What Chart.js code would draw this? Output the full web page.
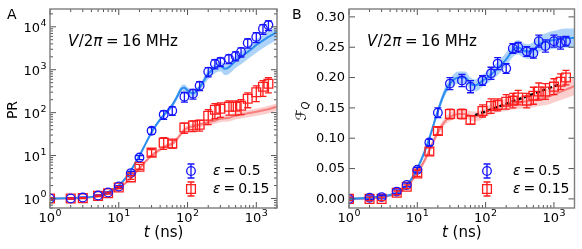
<!DOCTYPE html>
<html><head><meta charset="utf-8">
<script src="https://cdn.jsdelivr.net/npm/chart.js@4/dist/chart.umd.min.js"></script>
<style>
html,body{margin:0;padding:0;background:#fff;}
#wrap{position:relative;width:582px;height:249px;overflow:hidden;}
canvas{position:absolute;top:0;}
</style></head><body>
<div id="wrap">
<canvas id="ca" width="291" height="249" style="left:0"></canvas>
<canvas id="cb" width="291" height="249" style="left:291px"></canvas>
</div>
<script>
// ---------- measured data (time in ns) ----------
const tExp = [1,2,3,5,7,10,15,20,30,45,60,90,120,150,200,250,300,400,500,600,750,1000,1250,1500];
// Panel A: participation ratio PR
const prBlue    = [1.0,1.0,1.05,1.17,1.38,1.9,3.9,9.0,38,90,111,235,277,425,900,1380,1530,1800,2100,2600,4200,5800,9000,11000];
const prBlueErr = [0.03,0.03,0.03,0.04,0.05,0.08,0.4,1.0,7,20,25,60,70,100,220,330,350,420,500,620,1000,1500,2300,2800];
const prRed     = [1.0,1.0,1.02,1.15,1.33,1.8,3.1,5.5,11.7,20,19,45,50,52,85,117,123,138,138,145,210,300,400,470];
const prRedErr  = [0.03,0.03,0.03,0.05,0.07,0.1,0.3,0.7,2,6,4,12,14,15,32,45,45,50,50,55,80,120,160,180];
// Panel B: F_Q
const fqBlue    = [0.0,0.002,0.003,0.012,0.023,0.048,0.093,0.142,0.19,0.195,0.185,0.195,0.207,0.223,0.215,0.248,0.25,0.243,0.24,0.26,0.252,0.26,0.257,0.26];
const fqBlueErr = [0.003,0.003,0.003,0.003,0.003,0.004,0.005,0.008,0.01,0.01,0.01,0.008,0.01,0.01,0.008,0.008,0.008,0.008,0.008,0.01,0.01,0.01,0.01,0.008];
const fqRed     = [0.0,0.0,0.0,0.01,0.02,0.042,0.078,0.112,0.14,0.14,0.13,0.145,0.153,0.155,0.16,0.162,0.167,0.162,0.17,0.177,0.177,0.185,0.193,0.2];
const fqRedErr  = [0.003,0.003,0.003,0.003,0.003,0.005,0.006,0.006,0.008,0.008,0.007,0.01,0.012,0.01,0.012,0.012,0.012,0.012,0.014,0.014,0.013,0.013,0.013,0.012];

// ---------- theory curves (centre and half spread) ----------
const tTh = [1,2,3,5,7,10,13,15,20,25,30,40,50,60,70,80,90,100,120,150,200,250,300,350,400,500,600,800,1000,1500,2000];
const thPrBlue  = [1.0,1.02,1.05,1.15,1.4,2.0,3.2,4.5,10,20,35,70,105,150,230,350,380,330,280,390,800,1100,1250,1050,1150,1600,2000,2800,3800,5800,7600];
const thPrBlueS = [0.01,0.01,0.02,0.03,0.05,0.08,0.15,0.25,0.6,1.5,3,7,12,20,35,60,70,60,50,70,200,280,330,300,350,500,650,900,1300,2000,2600];
const thPrRed   = [1.0,1.0,1.02,1.12,1.3,1.75,2.4,3.0,5.0,7.5,10,14,17,19,24,32,40,44,48,52,60,65,72,74,76,85,90,98,105,120,138];
const thPrRedS  = [0.02,0.02,0.02,0.03,0.04,0.06,0.1,0.15,0.3,0.6,1,1.5,2,2.5,3,4,5,6,7,7,9,10,12,13,14,16,17,19,20,24,28];
const thFqBlue  = [0,0.002,0.004,0.01,0.022,0.05,0.08,0.1,0.145,0.175,0.19,0.2,0.2,0.19,0.187,0.19,0.195,0.198,0.205,0.215,0.23,0.245,0.25,0.245,0.243,0.245,0.255,0.26,0.262,0.265,0.265];
const thFqBlueS = [0.002,0.002,0.002,0.003,0.003,0.004,0.005,0.005,0.006,0.007,0.008,0.01,0.01,0.01,0.01,0.01,0.01,0.01,0.01,0.011,0.011,0.011,0.012,0.012,0.012,0.013,0.013,0.014,0.015,0.016,0.016];
const thFqRed   = [0,0.001,0.003,0.009,0.02,0.043,0.065,0.08,0.11,0.127,0.135,0.14,0.14,0.137,0.136,0.137,0.14,0.143,0.148,0.152,0.155,0.157,0.158,0.16,0.161,0.163,0.165,0.168,0.172,0.18,0.186];
const thFqRedS  = [0.002,0.002,0.002,0.003,0.003,0.004,0.005,0.005,0.006,0.006,0.007,0.007,0.007,0.008,0.008,0.008,0.008,0.008,0.009,0.009,0.01,0.01,0.01,0.011,0.011,0.012,0.012,0.013,0.013,0.014,0.015];
// linear fit (panel B, red)
const fitT = [70,1150];
const fitF = [0.138,0.188];

const xTicksMajor = [1,10,100,1000];
const xTickExp = ['0','1','2','3'];
const yTicksA = [1,10,100,1000,10000];
const yTickExpA = ['0','1','2','3','4'];
const yTicksB = [0,0.05,0.10,0.15,0.20,0.25,0.30];
const yTickLabelsB = ['0.00','0.05','0.10','0.15','0.20','0.25','0.30'];
const legendLabels = ['0.5','0.15'];

// ---------- colours ----------
const BLUE='#1414ff', RED='#ff1c1c';
const BLUE_LINE='#2b8ef0', BLUE_BAND='rgba(60,150,240,0.42)';
const RED_LINE='#f77f7f', RED_BAND='rgba(245,130,125,0.38)';
const FONT='"DejaVu Sans", sans-serif';

function pts(xs, ys){ return xs.map((x,i)=>({x:x,y:ys[i]})); }
function band(xs, c, s, sign){ return xs.map((x,i)=>({x:x,y:c[i]+sign*s[i]})); }

function datasets(yB, yBe, yR, yRe, cB, sB, cR, sR, extra){
  const ds = [
    {data:pts(tExp,yB), errors:yBe, showLine:false, pointStyle:'circle', pointRadius:4.3, pointBorderWidth:1.3, pointBorderColor:BLUE, pointBackgroundColor:'rgba(0,0,0,0)', order:0},
    {data:pts(tExp,yR), errors:yRe, showLine:false, pointStyle:'rect', pointRadius:6.2, pointBorderWidth:1.3, pointBorderColor:RED, pointBackgroundColor:'rgba(0,0,0,0)', order:1},
  ];
  if (extra) ds.push(extra);
  ds.push(
    {data:pts(tTh,cB), borderColor:BLUE_LINE, borderWidth:2, pointRadius:0, cubicInterpolationMode:'monotone', order:5},
    {data:band(tTh,cB,sB,1), borderWidth:0, pointRadius:0, fill:'+1', backgroundColor:BLUE_BAND, cubicInterpolationMode:'monotone', order:6},
    {data:band(tTh,cB,sB,-1), borderWidth:0, pointRadius:0, cubicInterpolationMode:'monotone', order:7},
    {data:pts(tTh,cR), borderColor:RED_LINE, borderWidth:2, pointRadius:0, cubicInterpolationMode:'monotone', order:8},
    {data:band(tTh,cR,sR,1), borderWidth:0, pointRadius:0, fill:'+1', backgroundColor:RED_BAND, cubicInterpolationMode:'monotone', order:9},
    {data:band(tTh,cR,sR,-1), borderWidth:0, pointRadius:0, cubicInterpolationMode:'monotone', order:10}
  );
  return ds;
}

// ---------- plugins ----------
const errorBars = {
  id:'errorBars',
  afterDatasetsDraw(chart){
    const {ctx, chartArea:a, scales:{x,y}} = chart;
    ctx.save();
    ctx.beginPath(); ctx.rect(a.left,a.top,a.right-a.left,a.bottom-a.top); ctx.clip();
    chart.data.datasets.forEach(ds=>{
      if(!ds.errors) return;
      ctx.strokeStyle = ds.pointBorderColor; ctx.lineWidth=1.3;
      ds.data.forEach((p,i)=>{
        const e = ds.errors[i];
        const px = x.getPixelForValue(p.x);
        let lo = p.y-e; if (y.type==='logarithmic' && lo<=0) lo = p.y*0.05;
        const y1 = y.getPixelForValue(lo), y2 = y.getPixelForValue(p.y+e);
        ctx.beginPath();
        ctx.moveTo(px,y1); ctx.lineTo(px,y2);
        ctx.moveTo(px-3.5,y1); ctx.lineTo(px+3.5,y1);
        ctx.moveTo(px-3.5,y2); ctx.lineTo(px+3.5,y2);
        ctx.stroke();
      });
    });
    ctx.restore();
  }
};

function drawPow(ctx, exp, x, yb, align){
  ctx.font='13px '+FONT;
  const w1=ctx.measureText('10').width;
  ctx.font='9.5px '+FONT;
  const w2=ctx.measureText(exp).width;
  const tot=w1+w2+0.5;
  const x0 = align==='center' ? x-tot/2 : x-tot;
  ctx.textAlign='left'; ctx.textBaseline='alphabetic';
  ctx.font='13px '+FONT; ctx.fillText('10',x0,yb);
  ctx.font='9.5px '+FONT; ctx.fillText(exp,x0+w1+0.5,yb-6.5);
}

function drawTitleText(ctx, x0, yb){
  ctx.fillStyle='#000'; ctx.textBaseline='alphabetic'; ctx.textAlign='left';
  let x=x0;
  ctx.font='italic 15px '+FONT; ctx.fillText('V',x,yb); x+=ctx.measureText('V').width+0.5;
  ctx.font='15px '+FONT; ctx.fillText('/2',x,yb); x+=ctx.measureText('/2').width;
  ctx.font='italic 15px '+FONT; ctx.fillText('π',x,yb); x+=ctx.measureText('π').width+3.5;
  ctx.font='15px '+FONT; ctx.fillText('=',x,yb); x+=ctx.measureText('=').width+3.5;
  ctx.fillText('16 MHz',x,yb);
}

function legendEntry(ctx, cx, cy, color, shape, label, tx){
  ctx.strokeStyle=color; ctx.lineWidth=1.3;
  ctx.beginPath();
  ctx.moveTo(cx,cy-7); ctx.lineTo(cx,cy+7);
  ctx.moveTo(cx-3.5,cy-7); ctx.lineTo(cx+3.5,cy-7);
  ctx.moveTo(cx-3.5,cy+7); ctx.lineTo(cx+3.5,cy+7);
  ctx.stroke();
  ctx.beginPath();
  if(shape==='circle') ctx.arc(cx,cy,4.3,0,Math.PI*2);
  else ctx.rect(cx-4.4,cy-4.4,8.8,8.8);
  ctx.stroke();
  ctx.fillStyle='#000'; ctx.textBaseline='middle'; ctx.textAlign='left';
  let x=tx;
  ctx.font='italic 14px '+FONT; ctx.fillText('ε',x,cy); x+=ctx.measureText('ε').width+3;
  ctx.font='14px '+FONT; ctx.fillText('=',x,cy); x+=ctx.measureText('=').width+3;
  ctx.fillText(label,x,cy);
}

const decor = {
  id:'decor',
  afterDraw(chart, args, o){
    const {ctx, chartArea:a, scales:{x,y}} = chart;
    const ln=(x1,y1,x2,y2)=>{ctx.beginPath();ctx.moveTo(x1,y1);ctx.lineTo(x2,y2);ctx.stroke();};
    ctx.save();
    ctx.strokeStyle='#555'; ctx.lineWidth=1;
    // x ticks (log)
    for(let d=1; d<=1000; d*=10){
      for(let k=1;k<=9;k++){
        const v=d*k; if(v>x.max) break;
        const len = k===1?6:3;
        const p=x.getPixelForValue(v);
        ln(p,a.bottom,p,a.bottom-len); ln(p,a.top,p,a.top+len);
      }
    }
    // y ticks
    if(o.panel==='A'){
      for(let d=0.1; d<=10000; d*=10){
        for(let k=1;k<=9;k++){
          const v=d*k; if(v<y.min||v>y.max) continue;
          const len = k===1?6:3;
          const p=y.getPixelForValue(v);
          ln(a.left,p,a.left+len,p); ln(a.right,p,a.right-len,p);
        }
      }
    } else {
      yTicksB.forEach(v=>{const p=y.getPixelForValue(v); ln(a.left,p,a.left+6,p); ln(a.right,p,a.right-6,p);});
    }
    // frame
    ctx.strokeStyle='#7d7d7d'; ctx.lineWidth=1.4;
    ctx.strokeRect(a.left,a.top,a.right-a.left,a.bottom-a.top);
    // tick labels
    ctx.fillStyle='#000';
    xTicksMajor.forEach((v,i)=>drawPow(ctx,xTickExp[i],x.getPixelForValue(v),222,'center'));
    if(o.panel==='A'){
      yTicksA.forEach((v,i)=>drawPow(ctx,yTickExpA[i],a.left-3.5,y.getPixelForValue(v)+5.5,'right'));
    } else {
      ctx.font='13px '+FONT; ctx.textAlign='right'; ctx.textBaseline='middle';
      yTicksB.forEach((v,i)=>ctx.fillText(yTickLabelsB[i],a.left-4,y.getPixelForValue(v)+0.5));
    }
    // x label
    const cx=(a.left+a.right)/2;
    ctx.textBaseline='alphabetic'; ctx.textAlign='left';
    ctx.font='italic 15px '+FONT; const wt=ctx.measureText('t').width;
    ctx.font='15px '+FONT; const wr=ctx.measureText(' (ns)').width;
    const x0=cx-(wt+wr)/2;
    ctx.font='italic 15px '+FONT; ctx.fillText('t',x0,237);
    ctx.font='15px '+FONT; ctx.fillText(' (ns)',x0+wt,237);
    // panel letter
    ctx.font='14px '+FONT; ctx.textAlign='left'; ctx.textBaseline='alphabetic';
    ctx.fillText(o.panel, o.panel==='A'?7:1, 19);
    // y label
    ctx.save();
    if(o.panel==='A'){
      ctx.translate(13,110); ctx.rotate(-Math.PI/2);
      ctx.font='14px '+FONT; ctx.textAlign='center'; ctx.textBaseline='middle';
      ctx.fillText('PR',0,0);
    } else {
      ctx.translate(12,111); ctx.rotate(-Math.PI/2);
      ctx.font='italic 14px '+FONT; ctx.textBaseline='middle'; ctx.textAlign='left';
      const wF=ctx.measureText('ℱ').width;
      ctx.font='10px '+FONT; const wQ=ctx.measureText('Q').width;
      const s=-(wF+wQ)/2;
      ctx.font='italic 14px '+FONT; ctx.fillText('ℱ',s,-1);
      ctx.font='italic 10px '+FONT; ctx.fillText('Q',s+wF,3);
    }
    ctx.restore();
    // annotation
    drawTitleText(ctx, o.panel==='A'?68:76, 46);
    // legend
    const lx = o.panel==='A'?191:196, tx = o.panel==='A'?213:222;
    legendEntry(ctx, lx, 171, BLUE, 'circle', legendLabels[0], tx);
    legendEntry(ctx, lx, 189, RED, 'rect', legendLabels[1], tx);
    ctx.restore();
  }
};

function makeChart(id, panel, yScale, ds, pad){
  return new Chart(document.getElementById(id), {
    type:'line',
    data:{datasets:ds},
    options:{
      responsive:false, animation:false, devicePixelRatio:1,
      layout:{padding:pad},
      scales:{
        x:{type:'logarithmic', min:1, max:2000, display:false},
        y:Object.assign({display:false}, yScale)
      },
      plugins:{legend:{display:false}, tooltip:{enabled:false}, decor:{panel:panel}},
      elements:{line:{tension:0}}
    },
    plugins:[errorBars, decor]
  });
}

makeChart('ca','A',{type:'logarithmic',min:0.62,max:26000},
  datasets(prBlue,prBlueErr,prRed,prRedErr,thPrBlue,thPrBlueS,thPrRed,thPrRedS,null),
  {left:50,right:14,top:9,bottom:41});

const fitDs = {data:pts(fitT,fitF), borderColor:'#000', borderWidth:2.3, borderDash:[4,2.5], pointRadius:0, order:2};
makeChart('cb','B',{type:'linear',min:-0.015,max:0.313},
  datasets(fqBlue,fqBlueErr,fqRed,fqRedErr,thFqBlue,thFqBlueS,thFqRed,thFqRedS,fitDs),
  {left:58,right:6,top:9,bottom:41});
</script>
</body></html>
